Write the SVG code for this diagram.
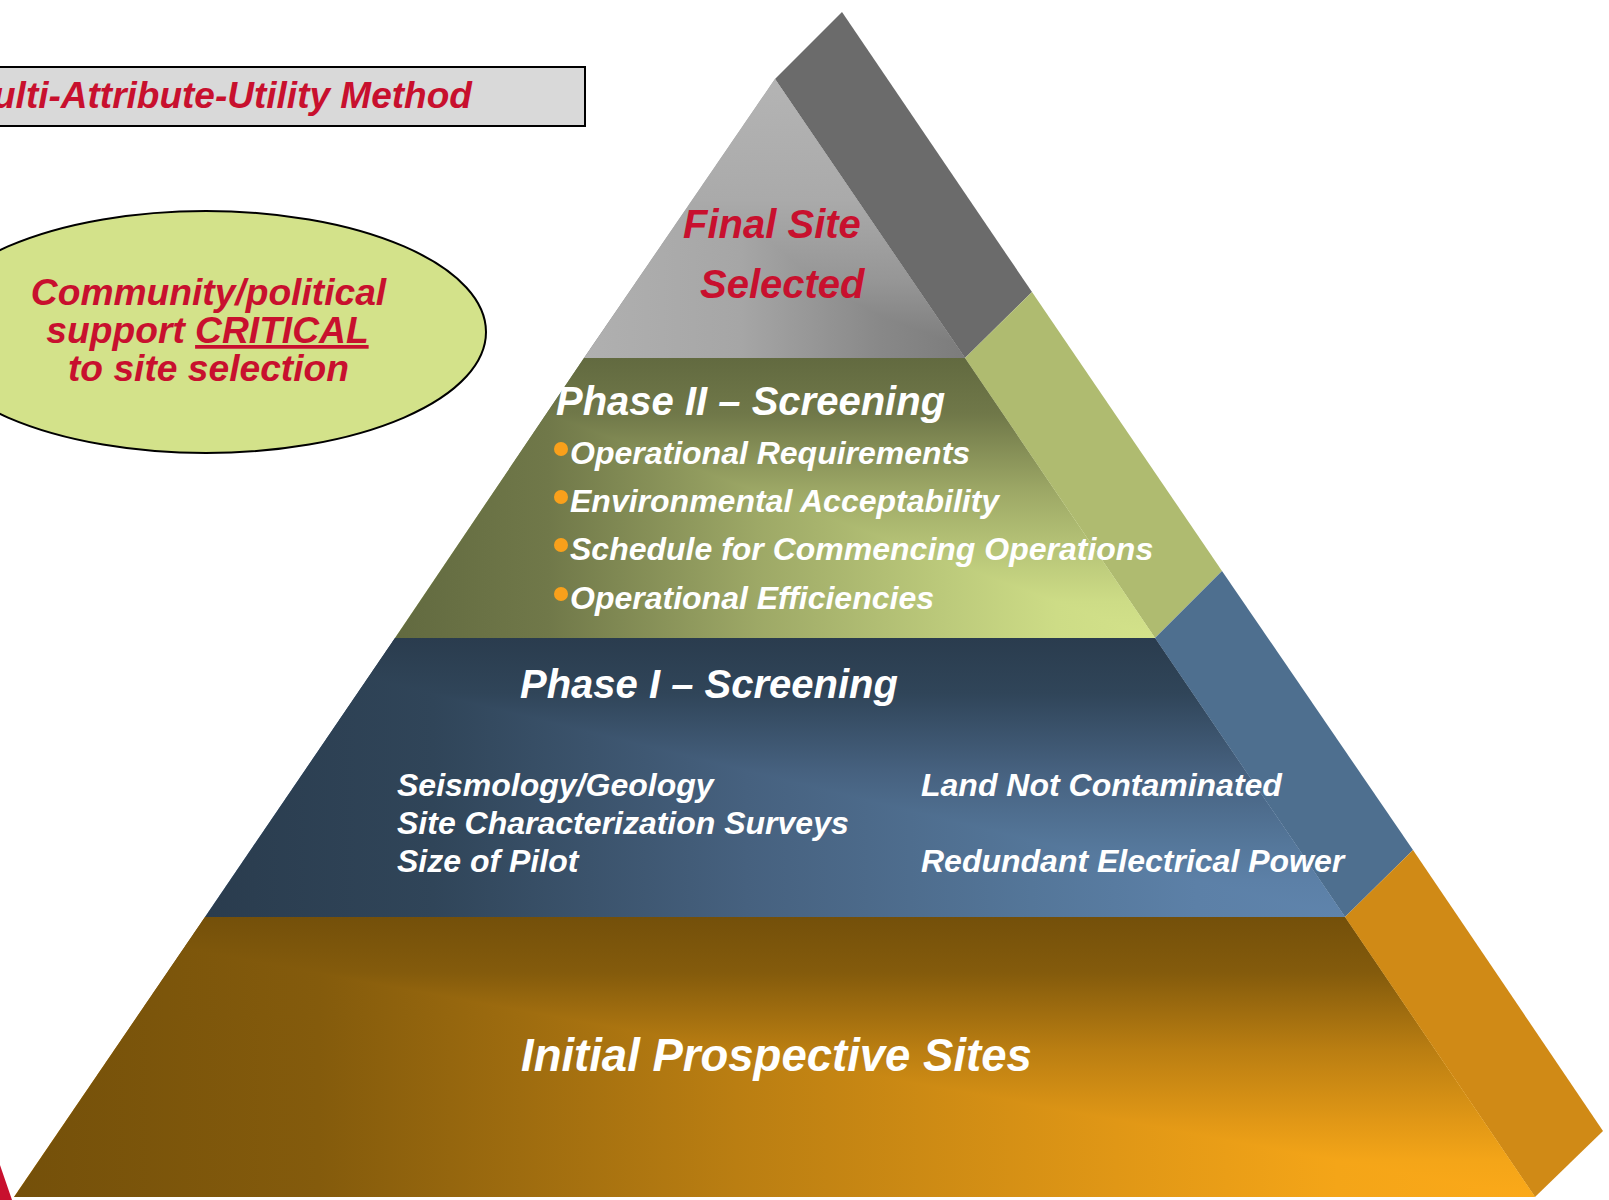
<svg xmlns="http://www.w3.org/2000/svg" width="1609" height="1200" viewBox="0 0 1609 1200">
<defs>
<style>
text{font-family:"Liberation Sans",Arial,sans-serif;font-weight:bold;font-style:italic}
.r{fill:#c8102e}.w{fill:#fff}
.m{font-size:32px}
.b{fill:#f9a01b}
.iso{isolation:isolate}
.dk{mix-blend-mode:darken}
.lt{mix-blend-mode:lighten}
</style>
<linearGradient id="g1h" gradientUnits="userSpaceOnUse" x1="584" y1="0" x2="965" y2="0"><stop offset="0" stop-color="#b0b0b0"/><stop offset=".41" stop-color="#a6a6a6"/><stop offset=".78" stop-color="#888"/><stop offset="1" stop-color="#7c7c7c"/></linearGradient>
<linearGradient id="g1v" gradientUnits="userSpaceOnUse" x1="0" y1="80" x2="0" y2="358"><stop offset="0" stop-color="#b4b4b4"/><stop offset=".43" stop-color="#aaa"/><stop offset=".72" stop-color="#969696"/><stop offset="1" stop-color="#787878"/></linearGradient>
<linearGradient id="g2h" gradientUnits="userSpaceOnUse" x1="395" y1="0" x2="1155" y2="0"><stop offset="0" stop-color="rgb(98,106,64)"/><stop offset=".2" stop-color="rgb(112,120,73)"/><stop offset=".475" stop-color="rgb(157,168,102)"/><stop offset=".725" stop-color="rgb(188,202,123)"/><stop offset=".87" stop-color="rgb(205,220,134)"/><stop offset="1" stop-color="rgb(211,226,138)"/></linearGradient>
<linearGradient id="g2v" gradientUnits="userSpaceOnUse" x1="0" y1="358" x2="0" y2="638"><stop offset="0" stop-color="rgb(98,106,64)"/><stop offset=".2" stop-color="rgb(112,120,73)"/><stop offset=".475" stop-color="rgb(157,168,102)"/><stop offset=".725" stop-color="rgb(188,202,123)"/><stop offset=".87" stop-color="rgb(205,220,134)"/><stop offset="1" stop-color="rgb(211,226,138)"/></linearGradient>
<linearGradient id="g3h" gradientUnits="userSpaceOnUse" x1="205" y1="0" x2="1345" y2="0"><stop offset="0" stop-color="rgb(42,60,78)"/><stop offset=".2" stop-color="rgb(48,69,89)"/><stop offset=".475" stop-color="rgb(70,97,127)"/><stop offset=".725" stop-color="rgb(84,118,153)"/><stop offset=".87" stop-color="rgb(92,128,167)"/><stop offset="1" stop-color="rgb(95,132,172)"/></linearGradient>
<linearGradient id="g3v" gradientUnits="userSpaceOnUse" x1="0" y1="638" x2="0" y2="917"><stop offset="0" stop-color="rgb(42,60,78)"/><stop offset=".2" stop-color="rgb(48,69,89)"/><stop offset=".475" stop-color="rgb(70,97,127)"/><stop offset=".725" stop-color="rgb(84,118,153)"/><stop offset=".87" stop-color="rgb(92,128,167)"/><stop offset="1" stop-color="rgb(95,132,172)"/></linearGradient>
<linearGradient id="g4h" gradientUnits="userSpaceOnUse" x1="14" y1="0" x2="1535" y2="0"><stop offset="0" stop-color="rgb(116,80,10)"/><stop offset=".2" stop-color="rgb(132,91,12)"/><stop offset=".475" stop-color="rgb(186,126,18)"/><stop offset=".725" stop-color="rgb(224,151,22)"/><stop offset=".87" stop-color="rgb(244,165,24)"/><stop offset="1" stop-color="rgb(251,169,25)"/></linearGradient>
<linearGradient id="g4v" gradientUnits="userSpaceOnUse" x1="0" y1="917" x2="0" y2="1197"><stop offset="0" stop-color="rgb(116,80,10)"/><stop offset=".2" stop-color="rgb(132,91,12)"/><stop offset=".475" stop-color="rgb(186,126,18)"/><stop offset=".725" stop-color="rgb(224,151,22)"/><stop offset=".87" stop-color="rgb(244,165,24)"/><stop offset="1" stop-color="rgb(251,169,25)"/></linearGradient>
</defs>
<rect width="1609" height="1200" fill="#fff"/>
<g id="title"><rect x="-10" y="67" width="595" height="59" fill="#d9d9d9" stroke="#000" stroke-width="2"/><text class="r" x="-7" y="108" font-size="37">ulti-Attribute-Utility Method</text></g>
<g id="callout"><ellipse cx="206" cy="332" rx="280" ry="121" fill="#d3e28a" stroke="#000" stroke-width="2"/>
<g class="r" font-size="37.2" text-anchor="middle"><text x="208.500" y="305">Community/political</text><text x="207.500" y="343">support <tspan text-decoration="underline">CRITICAL</tspan></text><text x="208.500" y="381">to site selection</text></g></g>
<g id="sides">
<polygon points="775,79 842,12 1032,292 965,358" fill="#6b6b6b"/>
<polygon points="965,358 1032,292 1222,571 1155,638" fill="#afbb70"/>
<polygon points="1155,638 1222,571 1413,850 1345,917" fill="#4e6f8f"/>
<polygon points="1345,917 1413,850 1603,1131 1535,1197" fill="#d08a16"/>
</g>
<g id="final"><g class="iso"><polygon points="775,79 965,358 584,358" fill="url(#g1h)"/><polygon class="lt" points="775,79 965,358 584,358" fill="url(#g1v)"/></g><g class="r" font-size="40"><text x="683" y="238">Final Site</text><text x="700" y="298">Selected</text></g></g>
<g id="phase2"><g class="iso"><polygon points="584,358 965,358 1155,638 395,638" fill="url(#g2h)"/><polygon class="dk" points="584,358 965,358 1155,638 395,638" fill="url(#g2v)"/></g>
<text class="w" x="556" y="415" font-size="40">Phase II – Screening</text>
<circle class="b" cx="561" cy="449" r="7"/><circle class="b" cx="561" cy="497" r="7"/><circle class="b" cx="561" cy="545" r="7"/><circle class="b" cx="561" cy="594" r="7"/>
<g class="w m"><text x="570" y="464">Operational Requirements</text><text x="570" y="512">Environmental Acceptability</text><text x="570" y="560">Schedule for Commencing Operations</text><text x="570" y="609">Operational Efficiencies</text></g></g>
<g id="phase1"><g class="iso"><polygon points="395,638 1155,638 1345,917 205,917" fill="url(#g3h)"/><polygon class="dk" points="395,638 1155,638 1345,917 205,917" fill="url(#g3v)"/></g>
<text class="w" x="520" y="698" font-size="40">Phase I – Screening</text>
<g class="w m"><text x="397" y="796">Seismology/Geology</text><text x="397" y="834">Site Characterization Surveys</text><text x="397" y="872">Size of Pilot</text><text x="921" y="796">Land Not Contaminated</text><text x="921" y="872">Redundant Electrical Power</text></g></g>
<g id="initial"><g class="iso"><polygon points="205,917 1345,917 1535,1197 14,1197" fill="url(#g4h)"/><polygon class="dk" points="205,917 1345,917 1535,1197 14,1197" fill="url(#g4v)"/></g>
<text class="w" x="521" y="1071" font-size="45.5">Initial Prospective Sites</text></g>
<polygon id="corner" points="0,1165 12,1200 0,1200" fill="#c8102e"/>
</svg>
